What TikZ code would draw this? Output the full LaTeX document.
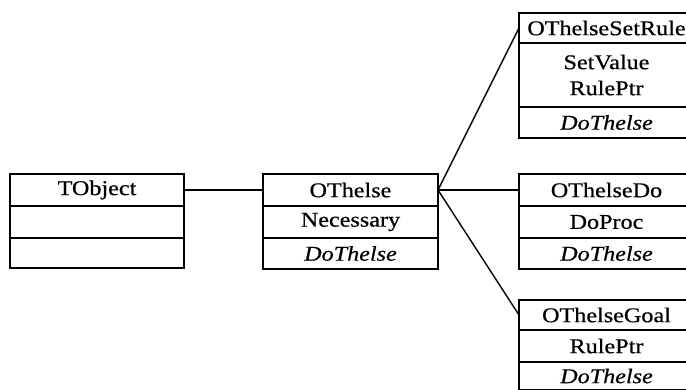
\documentclass[tikz,border=0pt]{standalone}
\usepackage{fontspec}
\setmainfont[FakeStretch=1.15,FakeBold=0.6]{Liberation Serif}
\begin{document}
\begin{tikzpicture}[x=1pt,y=-1pt,
  cell/.style={draw, line width=1.4pt, minimum width=175pt, minimum height=32pt,
    inner sep=0pt, outer sep=0pt, anchor=north west, align=center,
    font=\fontsize{21}{26}\selectfont},
  below/.style={anchor=north},
  link/.style={line width=1.4pt}]
\useasboundingbox (0,0) rectangle (686,390);
\clip (0,0) rectangle (686,390);

% TObject
\node[cell, minimum width=174pt] (tobj) at (10,174) {TObject};
\node[cell, below, minimum width=174pt] (tobj-a) at (tobj.south) {};
\node[cell, below, minimum width=174pt, minimum height=30pt] (tobj-m) at (tobj-a.south) {};

% OThelse
\node[cell] (oth) at (263,174) {OThelse};
\node[cell, below] (oth-a) at (oth.south) {Necessary};
\node[cell, below, minimum height=31pt] (oth-m) at (oth-a.south) {\itshape DoThelse};

% OThelseSetRule
\node[cell, minimum height=30pt] (rule) at (519,13) {OThelseSetRule};
\node[cell, below, minimum height=64pt] (rule-a) at (rule.south) {SetValue\\RulePtr};
\node[cell, below, minimum height=31pt] (rule-m) at (rule-a.south) {\itshape DoThelse};

% OThelseDo
\node[cell] (do) at (519,174) {OThelseDo};
\node[cell, below] (do-a) at (do.south) {DoProc};
\node[cell, below, minimum height=31pt] (do-m) at (do-a.south) {\itshape DoThelse};

% OThelseGoal
\node[cell, minimum height=30pt] (goal) at (519,300) {OThelseGoal};
\node[cell, below] (goal-a) at (goal.south) {RulePtr};
\node[cell, below, minimum height=28pt] (goal-m) at (goal-a.south) {\itshape DoThelse};

% inheritance links
\draw[link] (tobj.east) -- (oth.west);
\draw[link] (oth.east) -- (rule.west);
\draw[link] (oth.east) -- (do.west);
\draw[link] (oth.east) -- (goal.west);
\end{tikzpicture}
\end{document}
